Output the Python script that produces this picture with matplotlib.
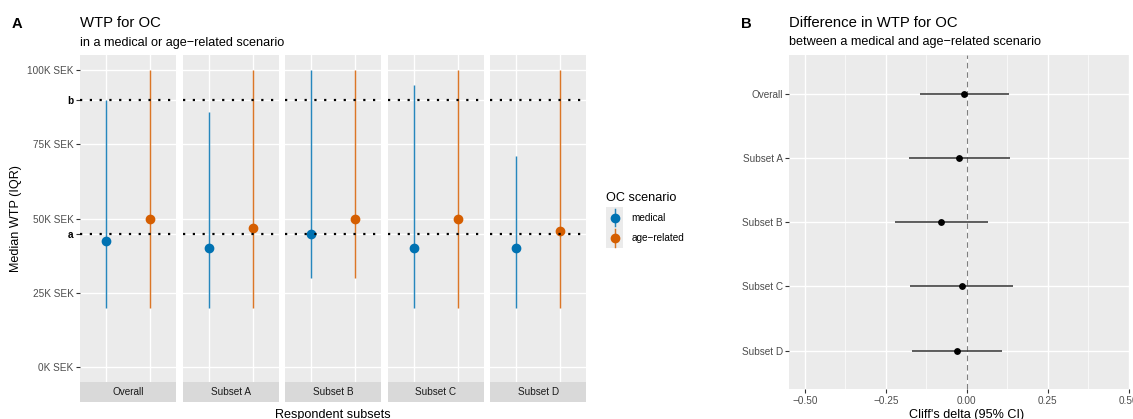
import matplotlib
matplotlib.use("Agg")
import matplotlib.pyplot as plt
from matplotlib.patches import Rectangle
from matplotlib.lines import Line2D

plt.rcParams['font.family'] = ['Liberation Sans', 'DejaVu Sans']

# ---------------- data ----------------
subsets = ["Overall", "Subset A", "Subset B", "Subset C", "Subset D"]
scenarios = ["medical", "age-related"]
scenario_labels = ["medical", "age\u2212related"]

med_median = [42500, 40000, 45000, 40000, 40000]
med_low = [20000, 20000, 30000, 20000, 20000]
med_high = [90000, 86000, 100000, 95000, 71000]

age_median = [50000, 47000, 50000, 50000, 46000]
age_low = [20000, 20000, 30000, 20000, 20000]
age_high = [100000, 100000, 100000, 100000, 100000]

ref_a = 45000
ref_b = 90000
y_breaks = [0, 25000, 45000, 50000, 75000, 90000, 100000]
y_labels = ["0K SEK", "25K SEK", "a", "50K SEK", "75K SEK", "b", "100K SEK"]

delta = [-0.009, -0.023, -0.080, -0.015, -0.031]
ci_low = [-0.146, -0.179, -0.222, -0.174, -0.169]
ci_high = [0.129, 0.134, 0.066, 0.143, 0.110]
x_breaks_b = [-0.5, -0.25, 0.0, 0.25, 0.5]
x_labels_b = ["\u22120.50", "\u22120.25", "0.00", "0.25", "0.50"]

# ---------------- style ----------------
W, H = 1133, 419
BLUE = "#0072B2"
ORANGE = "#D55E00"
PANEL = "#EBEBEB"
STRIP = "#D9D9D9"
TICKC = "#4D4D4D"
TICK_FS = 7.2
TITLE_FS = 10.7
SUB_FS = 9.1
AXT_FS = 9.1

fig = plt.figure(figsize=(W / 100, H / 100), dpi=100)


def rect(l, t, r, b):
    return [l / W, 1 - b / H, (r - l) / W, (b - t) / H]


def fy(y):
    return 1 - y / H


# ---------------- Panel A ----------------
lefts = [80, 182.5, 285, 387.5, 490]
pw = 96.3
ptop, pbot = 55, 382.3
colors = [BLUE, ORANGE]
lows = [med_low, age_low]
highs = [med_high, age_high]
meds = [med_median, age_median]

for i, name in enumerate(subsets):
    ax = fig.add_axes(rect(lefts[i], ptop, lefts[i] + pw, pbot))
    ax.set_facecolor(PANEL)
    for s in ax.spines.values():
        s.set_visible(False)
    ax.set_xlim(0.4, 2.6)
    ax.set_ylim(-5000, 105000)
    ax.set_xticks([1, 2])
    ax.set_yticks(y_breaks)
    ax.grid(True, color="white", lw=1.0)
    ax.set_axisbelow(True)
    ax.tick_params(axis="x", length=0, labelbottom=False)
    if i == 0:
        ax.set_yticklabels(y_labels)
        ax.tick_params(axis="y", length=2.7, width=0.8, color="#333333",
                       labelsize=TICK_FS, labelcolor=TICKC, pad=1.8)
        for lab in ax.get_yticklabels():
            if lab.get_text() in ("a", "b"):
                lab.set_fontweight("bold")
                lab.set_color("black")
    else:
        ax.tick_params(axis="y", length=0, labelleft=False)
    for k in range(2):
        ax.vlines(k + 1, lows[k][i], highs[k][i], color=colors[k], lw=1.05,
                  alpha=0.85, zorder=3)
        ax.plot([k + 1], [meds[k][i]], "o", color=colors[k], ms=6.0,
                mec=colors[k], zorder=4)
    for ref in (ref_a, ref_b):
        ax.axhline(ref, color="black", lw=1.6, linestyle=(0, (1, 3.4)),
                   zorder=5)
    # strip
    sax = fig.add_axes(rect(lefts[i], pbot, lefts[i] + pw, 402.3))
    sax.set_facecolor(STRIP)
    for s in sax.spines.values():
        s.set_visible(False)
    sax.set_xticks([])
    sax.set_yticks([])
    sax.text(0.5, 0.5, name, ha="center", va="center", fontsize=TICK_FS,
             color="#1A1A1A", transform=sax.transAxes)

fig.text(11.7 / W, fy(28.3), "A", fontsize=10.6, fontweight="bold",
         ha="left", va="baseline")
fig.text(80 / W, fy(27.3), "WTP for OC", fontsize=TITLE_FS, ha="left",
         va="baseline")
fig.text(80 / W, fy(45.7), "in a medical or age\u2212related scenario",
         fontsize=SUB_FS, ha="left", va="baseline")
fig.text(16.5 / W, fy(218.5), "Median WTP (IQR)", fontsize=AXT_FS,
         rotation=90, ha="center", va="center")
fig.text(333.3 / W, fy(418.0), "Respondent subsets", fontsize=AXT_FS,
         ha="center", va="baseline")

# ---------------- Legend ----------------
fig.text(606 / W, fy(200.5), "OC scenario", fontsize=AXT_FS, ha="left",
         va="baseline")
lax = fig.add_axes([0, 0, 1, 1], facecolor="none")
lax.set_xlim(0, W)
lax.set_ylim(H, 0)
lax.axis("off")
key_tops = [207.2, 227.8]
for k in range(2):
    t = key_tops[k]
    lax.add_patch(Rectangle((606, t), 17, 20.6, facecolor=PANEL,
                            edgecolor="none"))
    cy = t + 10.3
    lax.add_line(Line2D([614.5, 614.5], [t + 1.5, t + 19.1],
                        color=colors[k], lw=1.05, alpha=0.85))
    lax.plot([614.5], [cy], "o", color=colors[k], ms=6.0)
    lax.text(631.7, cy, scenario_labels[k], fontsize=TICK_FS, ha="left",
             va="center", color="black")

# ---------------- Panel B ----------------
bx = fig.add_axes(rect(789.3, 55, 1129.3, 389.3))
bx.set_facecolor(PANEL)
for s in bx.spines.values():
    s.set_visible(False)
ypos = list(range(len(subsets), 0, -1))
bx.set_xlim(-0.548, 0.5015)
bx.set_ylim(0.4, len(subsets) + 0.6)
bx.set_xticks(x_breaks_b)
bx.set_xticklabels(x_labels_b)
bx.set_xticks([-0.375, -0.125, 0.125, 0.375], minor=True)
bx.set_yticks(ypos)
bx.set_yticklabels(subsets)
bx.grid(True, which="major", color="white", lw=1.0)
bx.grid(True, which="minor", axis="x", color="white", lw=0.5)
bx.set_axisbelow(True)
bx.tick_params(which="major", length=2.7, width=0.8, color="#333333",
               labelsize=TICK_FS, labelcolor=TICKC, pad=1.8)
bx.tick_params(which="minor", length=0)
bx.axvline(0, color="#7F7F7F", lw=0.8, linestyle=(0, (5, 3.5)), zorder=2)
bx.hlines(ypos, ci_low, ci_high, color="#333333", lw=1.1, zorder=3)
bx.plot(delta, ypos, "o", color="black", ms=3.9, zorder=4)

fig.text(741 / W, fy(27.5), "B", fontsize=10.6, fontweight="bold",
         ha="left", va="baseline")
fig.text(789.3 / W, fy(27.3), "Difference in WTP for OC", fontsize=TITLE_FS,
         ha="left", va="baseline")
fig.text(789.3 / W, fy(45.2),
         "between a medical and age\u2212related scenario",
         fontsize=SUB_FS, ha="left", va="baseline")
fig.text(967 / W, fy(417.5), "Cliff's delta (95% CI)", fontsize=AXT_FS,
         ha="center", va="baseline")

fig.savefig("out.png", dpi=100)
